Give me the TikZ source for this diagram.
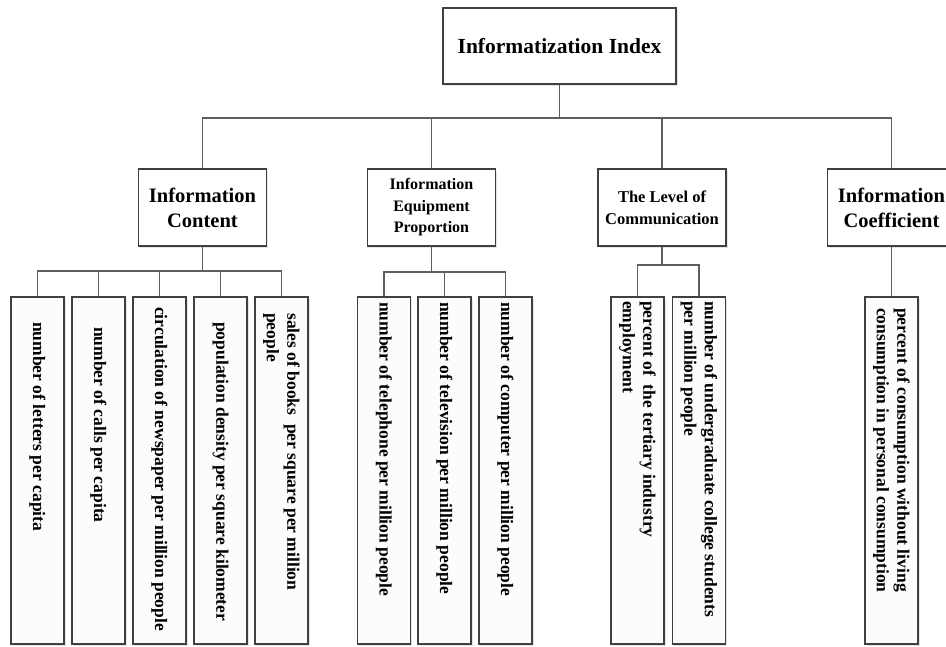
\documentclass[tikz,border=0pt]{standalone}
\usepackage{fontspec}
\setmainfont{Liberation Serif}
\usetikzlibrary{shadows}
\definecolor{linegray}{HTML}{5E5E5E}
\definecolor{boxborder}{HTML}{404040}
\definecolor{boxfill}{HTML}{FAFCFE}
\begin{document}
\begin{tikzpicture}[x=1pt,y=-1pt,
  shad/.style={drop shadow={shadow xshift=1.5pt,shadow yshift=-1.5pt,fill=black,opacity=0.10}},
  box/.style={draw=boxborder, line width=1.3pt, fill=white, inner sep=0pt, align=center, shad},
  midbox/.style={box, minimum width=128pt, minimum height=77pt},
  leafbox/.style={draw=boxborder, line width=1.3pt, fill=boxfill, minimum width=53pt, minimum height=347pt, inner sep=0pt, shad},
  leaftext/.style={rotate=-90, anchor=west, align=left, inner sep=0pt, font=\fontsize{17.5}{20.5}\selectfont\bfseries},
  conn/.style={draw=linegray, line width=1.3pt}]
\useasboundingbox (0,0) rectangle (946,646);
\clip (0,0) rectangle (946,646);
\fill[white] (0,0) rectangle (946,646);

% root
\node[box, minimum width=233pt, minimum height=76pt, font=\fontsize{21.5}{25}\selectfont\bfseries] (root) at (559.5,46) {Informatization Index};

% level 2
\node[midbox, font=\fontsize{20.5}{25}\selectfont\bfseries] (ic) at (202.5,207.5) {Information\\Content};
\node[midbox, font=\fontsize{16}{21.5}\selectfont\bfseries] (ie) at (431.5,207.5) {Information\\Equipment\\Proportion};
\node[midbox, font=\fontsize{16.5}{22}\selectfont\bfseries] (lc) at (662,207.5) {The Level of\\Communication};
\node[midbox, font=\fontsize{20.5}{25}\selectfont\bfseries] (co) at (891.5,207.5) {Information\\Coefficient};

\coordinate (rb) at (559.5,118);
\draw[conn] (root.south) -- (rb);
\foreach \n in {ic,ie,lc,co} \draw[conn] (\n.north) |- (rb);

% leaves: Information Content
\node[leafbox] (ic1) at (37.5,470.5) {};
\node[leafbox] (ic2) at (98.5,470.5) {};
\node[leafbox] (ic3) at (159.5,470.5) {};
\node[leafbox] (ic4) at (220.5,470.5) {};
\node[leafbox] (ic5) at (281.5,470.5) {};
% leaves: Equipment
\node[leafbox] (ie1) at (384,470.5) {};
\node[leafbox] (ie2) at (444.5,470.5) {};
\node[leafbox] (ie3) at (505.5,470.5) {};
% leaves: Communication
\node[leafbox] (lc1) at (637.5,470.5) {};
\node[leafbox] (lc2) at (699,470.5) {};
% leaf: Coefficient
\node[leafbox] (co1) at (891.5,470.5) {};

% leaf texts
\node[leaftext] (tic1) at (37.5,322) {number of letters per capita};
\node[leaftext] (tic2) at (98.5,327) {number of calls per capita};
\node[leaftext] (tic3) at (159.5,307) {circulation of newspaper per million people};
\node[leaftext] (tic4) at (220.5,322) {population density per square kilometer};
\node[leaftext] (tic5) at (281.5,313) {sales of books\ \ per square per million\\people};
\node[leaftext] (tie1) at (384,302) {number of telephone per million people};
\node[leaftext] (tie2) at (444.5,302) {number of television per million people};
\node[leaftext] (tie3) at (505.5,302) {number of computer per million people};
\node[leaftext] (tlc1) at (637.5,301) {percent of\ \ the tertiary industry\\employment};
\node[leaftext] (tlc2) at (699,301) {number of undergraduate college students\\per million people};
\node[leaftext] (tco1) at (891.5,308) {percent of consumption without living\\consumption in personal consumption};

% buses
\coordinate (icb) at (202.5,271);
\coordinate (ieb) at (431.5,272);
\coordinate (lcb) at (662,265);
\draw[conn] (ic.south) -- (icb);
\foreach \n in {ic1,ic2,ic3,ic4,ic5} \draw[conn] (\n.north) |- (icb);
\draw[conn] (ie.south) -- (ieb);
\foreach \n in {ie1,ie2,ie3} \draw[conn] (\n.north) |- (ieb);
\draw[conn] (lc.south) -- (lcb);
\foreach \n in {lc1,lc2} \draw[conn] (\n.north) |- (lcb);
\draw[conn] (co.south) -- (co1.north);
\end{tikzpicture}
\end{document}
